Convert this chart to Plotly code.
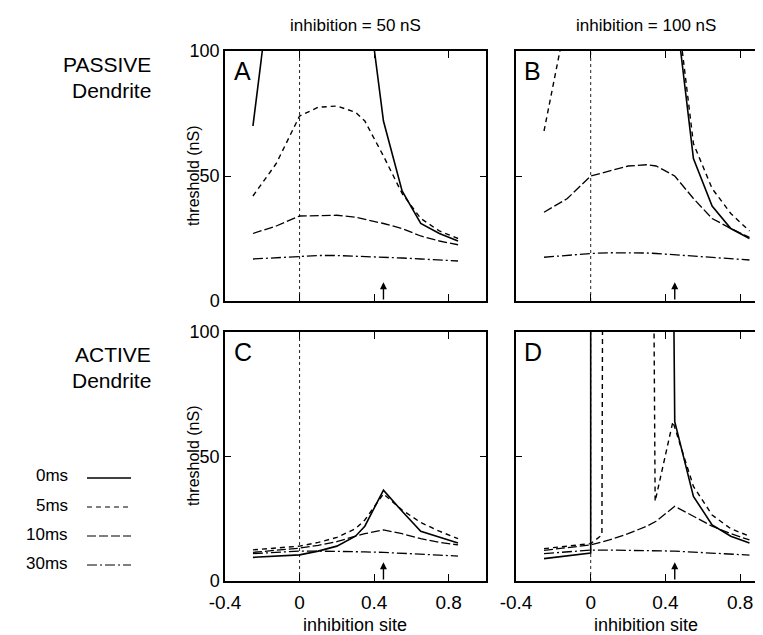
import plotly.graph_objects as go

# ---------------- data ----------------
site = [-0.25, -0.125, 0, 0.1, 0.2, 0.3, 0.35, 0.45, 0.55, 0.65, 0.75, 0.85]
series_names = ["0ms", "5ms", "10ms", "30ms"]

# A: passive dendrite, inhibition = 50 nS
a_0ms = [70, 145, None, None, None, None, 130, 72, 44, 31, 27, 24]
a_5ms = [42, 55, 74, 77.5, 78, 75.5, 72, 58, 43, 33, 28, 25]
a_10ms = [27, 30, 34, 34.3, 34.3, 33.5, 32.7, 31, 29, 26, 24, 22.5]
a_30ms = [16.8, 17.4, 18, 18.2, 18.2, 18, 17.8, 17.5, 17.2, 16.8, 16.4, 16]

# B: passive dendrite, inhibition = 100 nS
b_0ms = [None, None, None, None, None, None, None, 120, 57, 38, 29, 25]
b_5ms = [68, 115, None, None, None, None, None, 125, 63, 45, 35, 28]
b_10ms = [35.5, 41, 50, 52, 54, 54.5, 54, 50, 41, 33, 29, 25.5]
b_30ms = [17.5, 18.3, 19, 19.3, 19.4, 19.2, 19, 18.5, 18, 17.5, 17, 16.4]

# C: active dendrite, inhibition = 50 nS
c_0ms = [9.5, 10, 10.5, 12, 14, 18, 22, 36.5, 28, 20, 17.5, 15.3]
c_5ms = [12.5, 13.2, 14, 15.5, 17.5, 21, 24.5, 35, 28.5, 23.5, 20, 17]
c_10ms = [11.5, 12.3, 13.2, 14.3, 15.8, 18, 19, 20.5, 19, 17, 15.5, 14.5]
c_30ms = [11, 11.5, 12, 12, 12, 11.8, 11.7, 11.5, 11.2, 10.8, 10.4, 10]

# D: active dendrite, inhibition = 100 nS
d_0ms_site = [-0.25, -0.125, 0, 0, None, 0.44, 0.45, 0.55, 0.65, 0.75, 0.85]
d_0ms = [9, 10, 11.2, 150, None, 150, 64, 34, 22.5, 18, 15.3]
d_5ms_site = [-0.25, -0.125, 0, 0.06, 0.065, None, 0.335, 0.345, 0.44, 0.55, 0.65, 0.75, 0.85]
d_5ms = [13, 14, 15, 18.5, 150, None, 150, 32, 64, 38, 26.5, 21, 18]
d_10ms = [12.3, 13.3, 14.5, 16.5, 19, 22, 24, 30, 26, 22, 19, 16.5]
d_30ms = [11, 11.7, 12.4, 12.4, 12.3, 12.2, 12.1, 12, 11.6, 11.2, 10.8, 10.4]

x_ticks = [-0.4, 0, 0.4, 0.8]
x_tick_text = ["-0.4", "0", "0.4", "0.8"]
y_ticks = [0, 50, 100]
col_titles = ["inhibition = 50 nS", "inhibition = 100 nS"]
row_titles = [("PASSIVE", "Dendrite"), ("ACTIVE", "Dendrite")]
panel_letters = ["A", "B", "C", "D"]
soma_site = 0
synapse_site = 0.45

# ---------------- styling ----------------
FONT = "Liberation Sans, Arial, sans-serif"
dash_styles = {"0ms": "solid", "5ms": "5px,4px", "10ms": "9px,3px", "30ms": "10px,3px,2px,3px"}
widths = {"0ms": 1.6, "5ms": 1.4, "10ms": 1.3, "30ms": 1.3}

W, H = 763, 635
L, R, T, B = 217, 0, 43, 62
PW, PH = W - L - R, H - T - B


def px_x(p):
    return (p - L) / PW


def px_y(p):
    return (H - B - p) / PH


fig = go.Figure()

panels = [
    ("x", "y", [(site, a_0ms), (site, a_5ms), (site, a_10ms), (site, a_30ms)]),
    ("x2", "y2", [(site, b_0ms), (site, b_5ms), (site, b_10ms), (site, b_30ms)]),
    ("x3", "y3", [(site, c_0ms), (site, c_5ms), (site, c_10ms), (site, c_30ms)]),
    ("x4", "y4", [(d_0ms_site, d_0ms), (d_5ms_site, d_5ms), (site, d_10ms), (site, d_30ms)]),
]

for xa, ya, data in panels:
    # soma marker (dotted vertical line at x = 0)
    fig.add_shape(type="line", xref=xa, yref=ya, x0=soma_site, x1=soma_site, y0=0, y1=100,
                  line=dict(color="#222", width=1, dash="dot"), layer="below")
    for name, (xs, ys) in zip(series_names, data):
        fig.add_trace(go.Scatter(x=xs, y=ys, xaxis=xa, yaxis=ya, mode="lines",
                                 connectgaps=False, showlegend=False,
                                 line=dict(color="black", width=widths[name], dash=dash_styles[name])))
    # synapse arrow
    fig.add_annotation(x=synapse_site, y=7.5, ax=synapse_site, ay=0, xref=xa, yref=ya,
                       axref=xa, ayref=ya, text="", showarrow=True, arrowhead=2,
                       arrowsize=1, arrowwidth=1.4, arrowcolor="black")

xdom_left = [0, px_x(478)]
xdom_right = [px_x(508), 1]
ydom_top = [px_y(293), 1]
ydom_bot = [0, px_y(324)]

right_max = (W - 582) / 187.5

common_x = dict(tickmode="array", tickvals=x_ticks, ticktext=x_tick_text, ticks="inside",
                ticklen=7, tickwidth=1.2, tickcolor="black", showline=True, linecolor="black",
                linewidth=1.5, mirror="ticks", showgrid=False, zeroline=False,
                ticklabelstandoff=3,
                tickfont=dict(family=FONT, size=19, color="black"))
common_y = dict(range=[0, 100], tickmode="array", tickvals=y_ticks, ticks="inside", ticklen=6,
                tickwidth=1.2, tickcolor="black", showline=True, linecolor="black",
                linewidth=1.5, showgrid=False, zeroline=False,
                tickfont=dict(family=FONT, size=18, color="black"))

fig.update_layout(
    width=W, height=H,
    margin=dict(l=L, r=R, t=T, b=B),
    paper_bgcolor="white", plot_bgcolor="white",
    showlegend=False,
    font=dict(family=FONT, color="black"),
    xaxis=dict(domain=xdom_left, anchor="y", range=[-0.4, 1.0], showticklabels=False, **common_x),
    yaxis=dict(domain=ydom_top, anchor="x", mirror="ticks", **common_y),
    xaxis2=dict(domain=xdom_right, anchor="y2", range=[-0.4, right_max], showticklabels=False, **common_x),
    yaxis2=dict(domain=ydom_top, anchor="x2", mirror=False, showticklabels=False, **common_y),
    xaxis3=dict(domain=xdom_left, anchor="y3", range=[-0.4, 1.0], **common_x),
    yaxis3=dict(domain=ydom_bot, anchor="x3", mirror="ticks", **common_y),
    xaxis4=dict(domain=xdom_right, anchor="y4", range=[-0.4, right_max], **common_x),
    yaxis4=dict(domain=ydom_bot, anchor="x4", mirror=False, showticklabels=False, **common_y),
)

# panel letters
for letter, xa, ya in zip(panel_letters, ["x", "x2", "x3", "x4"], ["y", "y2", "y3", "y4"]):
    fig.add_annotation(text=letter, xref=xa + " domain", yref=ya + " domain", x=0.025, y=0.985,
                       xanchor="left", yanchor="top", showarrow=False,
                       font=dict(family=FONT, size=25, color="black"))

# column titles
for title, cx in zip(col_titles, [347, 638]):
    fig.add_annotation(text=title, xref="paper", yref="paper", x=px_x(cx), y=px_y(17),
                       xanchor="center", yanchor="middle", showarrow=False,
                       font=dict(family=FONT, size=17, color="black"))

# row titles
for (t1, t2), (y1, y2) in zip(row_titles, [(56, 82), (346, 372)]):
    fig.add_annotation(text=t1, xref="paper", yref="paper", x=px_x(145), y=px_y(y1),
                       xanchor="right", yanchor="middle", showarrow=False,
                       font=dict(family=FONT, size=21, color="black"))
    fig.add_annotation(text=t2, xref="paper", yref="paper", x=px_x(145), y=px_y(y2),
                       xanchor="right", yanchor="middle", showarrow=False,
                       font=dict(family=FONT, size=21, color="black"))

# y-axis titles
for cy in [168, 448]:
    fig.add_annotation(text="threshold (nS)", xref="paper", yref="paper", x=px_x(186), y=px_y(cy),
                       xanchor="center", yanchor="middle", textangle=-90, showarrow=False,
                       font=dict(family=FONT, size=16, color="black"))

# x-axis titles
for cx in [347, 638]:
    fig.add_annotation(text="inhibition site", xref="paper", yref="paper", x=px_x(cx), y=px_y(617),
                       xanchor="center", yanchor="middle", showarrow=False,
                       font=dict(family=FONT, size=18, color="black"))

# legend (key drawn with lines and labels)
for name, ly in zip(series_names, [468, 497, 526, 555]):
    fig.add_annotation(text=name, xref="paper", yref="paper", x=px_x(62), y=px_y(ly),
                       xanchor="right", yanchor="middle", showarrow=False,
                       font=dict(family=FONT, size=17, color="black"))
    fig.add_shape(type="line", xref="paper", yref="paper", x0=px_x(79), x1=px_x(123),
                  y0=px_y(ly + 2), y1=px_y(ly + 2),
                  line=dict(color="black", width=widths[name] - 0.2, dash=dash_styles[name]))

fig.write_html("out.html")
